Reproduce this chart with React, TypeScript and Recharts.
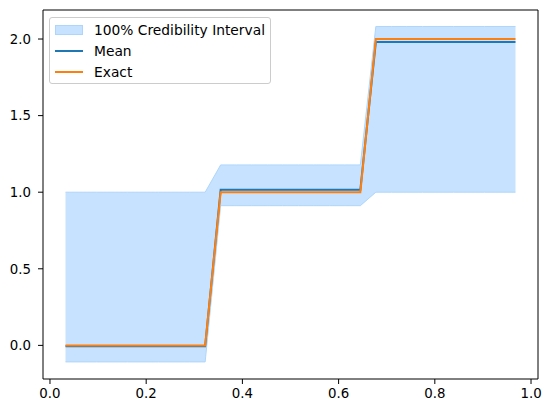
import React from "react";
import { ComposedChart, Area, Line, XAxis, YAxis, Legend, ReferenceLine } from "recharts";

const xs = [
  0.0323, 0.0645, 0.0968, 0.129, 0.1613, 0.1935, 0.2258, 0.2581, 0.2903, 0.3226,
  0.3548, 0.3871, 0.4194, 0.4516, 0.4839, 0.5161, 0.5484, 0.5806, 0.6129, 0.6452,
  0.6774, 0.7097, 0.7419, 0.7742, 0.8065, 0.8387, 0.871, 0.9032, 0.9355, 0.9677,
];
const exact = [
  0, 0, 0, 0, 0, 0, 0, 0, 0, 0,
  1, 1, 1, 1, 1, 1, 1, 1, 1, 1,
  2, 2, 2, 2, 2, 2, 2, 2, 2, 2,
];
const mean = [
  -0.005, -0.005, -0.005, -0.005, -0.005, -0.005, -0.005, -0.005, -0.005, -0.005,
  1.016, 1.016, 1.016, 1.016, 1.016, 1.016, 1.016, 1.016, 1.016, 1.016,
  1.98, 1.98, 1.98, 1.98, 1.98, 1.98, 1.98, 1.98, 1.98, 1.98,
];
const lower = [
  -0.108, -0.108, -0.108, -0.108, -0.108, -0.108, -0.108, -0.108, -0.108, -0.108,
  0.912, 0.912, 0.912, 0.912, 0.912, 0.912, 0.912, 0.912, 0.912, 0.912,
  1.0, 1.0, 1.0, 1.0, 1.0, 1.0, 1.0, 1.0, 1.0, 1.0,
];
const upper = [
  1.0, 1.0, 1.0, 1.0, 1.0, 1.0, 1.0, 1.0, 1.0, 1.0,
  1.178, 1.178, 1.178, 1.178, 1.178, 1.178, 1.178, 1.178, 1.178, 1.178,
  2.082, 2.082, 2.082, 2.082, 2.082, 2.082, 2.082, 2.082, 2.082, 2.082,
];
const xTicks = [0, 0.2, 0.4, 0.6, 0.8, 1.0];
const yTicks = [0, 0.5, 1.0, 1.5, 2.0];
const xDomain = [-0.0145, 1.0145];
const yDomain = [-0.2195, 2.1895];
const legendLabels = ["100% Credibility Interval", "Mean", "Exact"];

const data = xs.map((x, i) => ({
  x,
  band: [lower[i], upper[i]],
  mean: mean[i],
  exact: exact[i],
}));

const FONT = "'DejaVu Sans', sans-serif";
const tickStyle = { fontFamily: FONT, fontSize: 13.33, fill: "#000" };

const LegendBox = () => (
  <div
    style={{
      position: "absolute",
      left: 49,
      top: 17,
      width: 222,
      height: 67,
      border: "1px solid #cccccc",
      borderRadius: 3,
      background: "rgba(255,255,255,0.8)",
      fontFamily: FONT,
      fontSize: 13.8,
      color: "#000",
      boxSizing: "border-box",
    }}
  >
    {legendLabels.map((label, i) => (
      <div
        key={label}
        style={{ position: "absolute", left: 0, top: 3 + i * 21, height: 18, width: "100%" }}
      >
        {i === 0 ? (
          <div
            style={{
              position: "absolute",
              left: 5,
              top: 4,
              width: 28,
              height: 10,
              background: "#c6e2ff",
              border: "1px solid #aed6fb",
              boxSizing: "border-box",
            }}
          />
        ) : (
          <div
            style={{
              position: "absolute",
              left: 5,
              top: 8,
              width: 28,
              height: 2,
              background: i === 1 ? "#1f77b4" : "#ff7f0e",
            }}
          />
        )}
        <span style={{ position: "absolute", left: 44, top: 0, lineHeight: "18px", whiteSpace: "nowrap" }}>
          {label}
        </span>
      </div>
    ))}
  </div>
);

export default function App() {
  return (
    <div style={{ position: "absolute", left: 0, top: 0, width: 551, height: 413, background: "#fff" }}>
      <ComposedChart
        width={551}
        height={413}
        data={data}
        margin={{ top: 10, right: 13, bottom: 0, left: 0 }}
      >
        <XAxis
          dataKey="x"
          type="number"
          domain={xDomain}
          allowDataOverflow
          ticks={xTicks}
          tickFormatter={(v: number) => v.toFixed(1)}
          tick={tickStyle}
          stroke="#000"
          tickSize={5}
          tickMargin={5}
          height={34}
        />
        <YAxis
          type="number"
          domain={yDomain}
          allowDataOverflow
          ticks={yTicks}
          tickFormatter={(v: number) => v.toFixed(1)}
          tick={tickStyle}
          stroke="#000"
          tickSize={5}
          tickMargin={7}
          width={43}
        />
        <Area
          dataKey="band"
          type="linear"
          fill="#c6e2ff"
          fillOpacity={1}
          stroke="#aed6fb"
          strokeWidth={1}
          isAnimationActive={false}
          activeDot={false}
          dot={false}
        />
        <Line
          dataKey="mean"
          type="linear"
          stroke="#1f77b4"
          strokeWidth={2}
          dot={false}
          activeDot={false}
          isAnimationActive={false}
        />
        <Line
          dataKey="exact"
          type="linear"
          stroke="#ff7f0e"
          strokeWidth={2}
          dot={false}
          activeDot={false}
          isAnimationActive={false}
        />
        <ReferenceLine y={yDomain[1]} stroke="#000" strokeWidth={1} ifOverflow="extendDomain" />
        <ReferenceLine x={xDomain[1]} stroke="#000" strokeWidth={1} ifOverflow="extendDomain" />
        <Legend content={() => null} />
      </ComposedChart>
      <LegendBox />
    </div>
  );
}
